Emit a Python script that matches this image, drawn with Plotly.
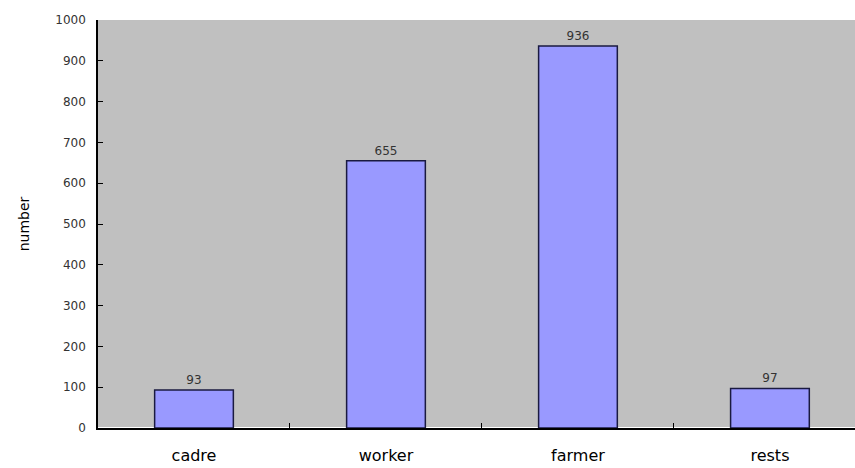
import plotly.graph_objects as go

categories = ["cadre", "worker", "farmer", "rests"]
values = [93, 655, 936, 97]
y_ticks = [0, 100, 200, 300, 400, 500, 600, 700, 800, 900, 1000]

fig = go.Figure()
fig.add_trace(go.Bar(
    x=categories, y=values, width=0.41,
    marker=dict(color="#9999FF", line=dict(color="#1a1a40", width=1.5)),
    text=[str(v) for v in values], textposition="outside",
    textfont=dict(family="DejaVu Sans", size=12, color="#333333"),
    cliponaxis=False,
))
fig.update_layout(
    width=855, height=468,
    margin=dict(l=98, r=0, t=20, b=40),
    paper_bgcolor="white", plot_bgcolor="#C0C0C0",
    showlegend=False,
    xaxis=dict(
        range=[-0.5, 3.443], showgrid=False, showline=True, linecolor="black", linewidth=1.5,
        ticks="inside", tickson="boundaries", ticklen=5, tickcolor="black",
        tickfont=dict(family="DejaVu Sans", size=16, color="black"),
        ticklabelstandoff=12,
    ),
    yaxis=dict(
        range=[0, 1000], tickvals=y_ticks, showgrid=False, showline=True, linecolor="black", linewidth=1.5,
        ticks="inside", ticklen=5, tickcolor="black",
        tickfont=dict(family="DejaVu Sans", size=12, color="#333333"),
        ticklabelstandoff=8,
        title=dict(text="number", font=dict(family="DejaVu Sans", size=14, color="black"), standoff=22),
    ),
)
fig.write_html("out.html")
